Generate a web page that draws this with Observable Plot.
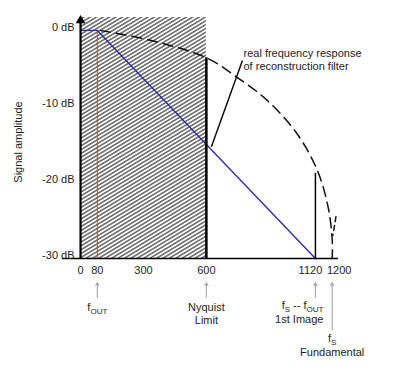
<!DOCTYPE html>
<html><head><meta charset="utf-8">
<script src="https://cdn.jsdelivr.net/npm/d3@7"></script>
<script src="https://cdn.jsdelivr.net/npm/@observablehq/plot@0.6"></script>
<style>body{margin:0;background:#fff} svg{display:block}</style>
</head><body><div id="chart"></div>
<script>
// ---- data ----
const xTickValues = [0, 80, 300, 600];
const xTickExtra = [1120, 1200];
const yTickValues = [0, -10, -20, -30];

const respFreq = [0, 80, 1120];
const respDb = [0, 0, -30];

const idealFreq = [95, 333, 600, 748, 890, 1030, 1129, 1181, 1200, 1200];
const idealDb = [0, -1.3, -3.6, -6.2, -9.2, -13.5, -18.4, -23.3, -27.6, -30];

const notchFreq = [1218, 1203];
const notchDb = [-24.5, -27];

const fOut = 80, nyquist = 600, firstImage = 1120, fs = 1200;
const nyquistTopDb = -3.6, imageTopDb = -18.8, floorDb = -30, topDb = 1.7;

const markerFreq = [80, 600, 1120, 1200];
const markerTailDb = [-35.1, -35.1, -35.1, -39.4];
const markerHeadDb = [-33.2, -33.2, -33.2, -33.2];

const bottomLabels = [
  {f: 80, db: -36.4, text: "f_OUT", anchor: "middle"},
  {f: 600, db: -36.4, text: "Nyquist", anchor: "middle"},
  {f: 600, db: -38.1, text: "Limit", anchor: "middle"},
  {f: 1120, db: -36.2, text: "f_S -- f_OUT", anchor: "end"},
  {f: 1120, db: -38.0, text: "1st Image", anchor: "end"},
  {f: 1200, db: -40.5, text: "f_S", anchor: "middle"},
  {f: 1200, db: -42.4, text: "Fundamental", anchor: "middle"}
];

const noteText = ["real frequency response", "of reconstruction filter"];
const noteFreq = [777, 777];
const noteDb = [-3.0, -4.75];
const pointer = {f1: 772, db1: -3.96, f2: 624, db2: -15.3};

const font = "Liberation Sans, Arial, Helvetica, sans-serif";

const chart = Plot.plot({
  width: 408, height: 372,
  marginLeft: 62, marginRight: 70, marginTop: 17, marginBottom: 114,
  style: {fontFamily: font, fontSize: "11px", background: "white", color: "#222"},
  x: {domain: [-86, 1230], axis: null},
  y: {domain: [floorDb, topDb], axis: null},
  marks: [
    // hatched passband up to Nyquist
    Plot.rect([{x1: 0, x2: nyquist, y1: floorDb, y2: topDb}], {x1: "x1", x2: "x2", y1: "y1", y2: "y2", fill: "url(#hatch)"}),
    // red output frequency line
    Plot.ruleX([fOut], {y1: floorDb, y2: 0, stroke: "#c8453c", strokeWidth: 1}),
    // ideal (dashed) sinc-like response
    Plot.line(idealFreq.map((f, i) => ({f, db: idealDb[i]})), {x: "f", y: "db", stroke: "#111", strokeWidth: 1.5, strokeDasharray: "10,6", curve: "catmull-rom"}),
    Plot.line(notchFreq.map((f, i) => ({f, db: notchDb[i]})), {x: "f", y: "db", stroke: "#111", strokeWidth: 1.5, strokeDasharray: "5,4"}),
    // real response (blue)
    Plot.line(respFreq.map((f, i) => ({f, db: respDb[i]})), {x: "f", y: "db", stroke: "#2d2dab", strokeWidth: 1.4}),
    // Nyquist boundary and first image
    Plot.ruleX([nyquist], {y1: floorDb, y2: nyquistTopDb, stroke: "#000", strokeWidth: 2.5}),
    Plot.ruleX([firstImage], {y1: floorDb, y2: imageTopDb, stroke: "#000", strokeWidth: 1.5}),
    // axes lines
    Plot.ruleY([floorDb], {stroke: "#000", strokeWidth: 1.3}),
    Plot.ruleX([0], {y1: floorDb, y2: topDb - 0.5, stroke: "#000", strokeWidth: 2.2}),
    Plot.dot([0], {x: d => d, y: () => topDb - 0.4, symbol: "triangle", r: 3.6, fill: "#000", stroke: "none"}),
    // y tick labels
    Plot.text(yTickValues, {x: 0, y: d => d, text: d => `${d} dB`, textAnchor: "end", dx: -6, dy: -3, fill: "#222"}),
    // x tick labels
    Plot.text(xTickValues, {x: d => d, y: -31.6, text: d => `${d}`, fill: "#222"}),
    Plot.text([xTickExtra[0]], {x: d => d, y: -31.6, text: d => `${d}`, dx: -5, fill: "#222"}),
    Plot.text([xTickExtra[1]], {x: d => d, y: -31.6, text: d => `${d}`, dx: 7, fill: "#222"}),
    // y axis title
    Plot.text(["Signal amplitude"], {frameAnchor: "left", textAnchor: "middle", rotate: -90, dx: -44, dy: 4, fill: "#222"}),
    // gray pointer arrows below axis
    Plot.arrow(markerFreq.map((f, i) => ({f, t: markerTailDb[i], h: markerHeadDb[i]})), {x1: "f", x2: "f", y1: "t", y2: "h", stroke: "#9a9a9a", strokeWidth: 1, headLength: 5}),
    // bottom labels
    Plot.text(bottomLabels.filter(d => d.anchor === "middle"), {x: "f", y: "db", text: "text", textAnchor: "middle", fill: "#222"}),
    Plot.text(bottomLabels.filter(d => d.anchor === "end"), {x: "f", y: "db", text: "text", textAnchor: "end", dx: 8, fill: "#222"}),
    // annotation
    Plot.link([pointer], {x1: "f1", y1: "db1", x2: "f2", y2: "db2", stroke: "#000", strokeWidth: 1.4}),
    Plot.text(noteText.map((t, i) => ({t, f: noteFreq[i], db: noteDb[i]})), {x: "f", y: "db", text: "t", textAnchor: "start", fill: "#222"})
  ]
});

// hatch pattern
const svg = d3.select(chart);
const defs = svg.insert("defs", ":first-child");
const pat = defs.append("pattern").attr("id", "hatch").attr("patternUnits", "userSpaceOnUse")
  .attr("width", 10).attr("height", 3.3).attr("patternTransform", "rotate(-31)");
pat.append("rect").attr("width", 10).attr("height", 3.3).attr("fill", "white");
pat.append("line").attr("x1", 0).attr("x2", 10).attr("y1", 1.65).attr("y2", 1.65).attr("stroke", "#2a2a2a").attr("stroke-width", 1.1);

// subscripts: "_XYZ" -> subscript tspan
svg.selectAll("text").each(function() {
  const t = this.textContent;
  if (!t.includes("_")) return;
  const parts = t.split(/_([A-Z]+)/);
  const sel = d3.select(this);
  sel.text(null);
  let shifted = false;
  parts.forEach((p, i) => {
    if (!p) return;
    const ts = sel.append("tspan").text(p);
    if (i % 2) { ts.attr("font-size", 8).attr("dy", shifted ? 0 : 3); shifted = true; }
    else if (shifted) { ts.attr("dy", -3); shifted = false; }
  });
});

document.getElementById("chart").appendChild(chart);
</script></body></html>
